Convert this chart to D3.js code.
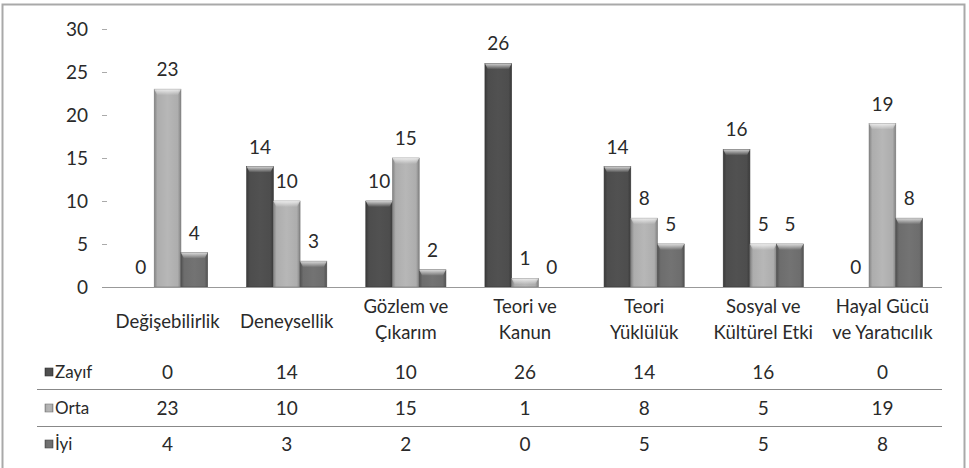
<!DOCTYPE html>
<html>
<head>
<meta charset="utf-8">
<script src="https://cdn.jsdelivr.net/npm/d3@7"></script>
<style>
  body { margin: 0; background: #fff; }
  text { font-family: Lato, "Open Sans", sans-serif; fill: #2a2a2a; }
</style>
</head>
<body>
<svg id="chart"></svg>
<script>
var width = 969,
    height = 468;

// data
var categories = ["Değişebilirlik", "Deneysellik", "Gözlem ve\nÇıkarım", "Teori ve\nKanun",
                  "Teori\nYüklülük", "Sosyal ve\nKültürel Etki", "Hayal Gücü\nve Yaratıcılık"];
var series = ["Zayıf", "Orta", "İyi"];
var zayif = [0, 14, 10, 26, 14, 16, 0];
var orta  = [23, 10, 15, 1, 8, 5, 19];
var iyi   = [4, 3, 2, 0, 5, 5, 8];
var yTicks = [0, 5, 10, 15, 20, 25, 30];

var values = [zayif, orta, iyi];
var colors = ["#4d4d4d", "#adadad", "#6d6d6d"];

var svg = d3.select("#chart")
    .attr("width", width)
    .attr("height", height);

svg.append("rect")
    .attr("width", width).attr("height", height)
    .attr("fill", "#fff");

// outer frame
svg.append("rect")
    .attr("x", 2.5).attr("y", 4.5)
    .attr("width", 962).attr("height", 480)
    .attr("fill", "none")
    .attr("stroke", "#a9a9a9")
    .attr("stroke-width", 2);

var defs = svg.append("defs");
colors.forEach(function(c, i) {
  var g = defs.append("linearGradient").attr("id", "grad" + i)
      .attr("x1", "0").attr("x2", "1").attr("y1", "0").attr("y2", "0");
  var dark = d3.color(c).darker(0.8), light = d3.color(c).brighter(0.15);
  g.append("stop").attr("offset", "0%").attr("stop-color", dark);
  g.append("stop").attr("offset", "12%").attr("stop-color", c);
  g.append("stop").attr("offset", "50%").attr("stop-color", light);
  g.append("stop").attr("offset", "88%").attr("stop-color", c);
  g.append("stop").attr("offset", "100%").attr("stop-color", dark);
});
var hi = defs.append("linearGradient").attr("id", "shine")
    .attr("x1", "0").attr("x2", "0").attr("y1", "0").attr("y2", "1");
hi.append("stop").attr("offset", "0%").attr("stop-color", "#fff").attr("stop-opacity", 0.75);
hi.append("stop").attr("offset", "100%").attr("stop-color", "#fff").attr("stop-opacity", 0);

var x = d3.scaleBand().domain(categories).range([108, 942]);
var x1 = d3.scaleBand().domain(series).range([19.5, x.bandwidth() - 19.5]);
var y = d3.scaleLinear().domain([0, 30]).range([287, 29]);

// y axis
var yAxis = svg.append("g")
    .attr("transform", "translate(107,0)")
    .call(d3.axisLeft(y).tickValues(yTicks).tickSize(5).tickPadding(14));
yAxis.select(".domain").remove();
yAxis.selectAll(".tick line").attr("stroke", "#aaa");
yAxis.selectAll(".tick text")
    .style("font-family", "Lato, sans-serif")
    .style("font-size", "19px")
    .attr("fill", "#2a2a2a");

// bars
series.forEach(function(s, si) {
  var g = svg.append("g");
  var data = values[si].map(function(v, i) { return {cat: categories[i], v: v}; });
  g.selectAll("rect.bar")
    .data(data.filter(function(d) { return d.v > 0; }))
    .enter().append("rect")
      .attr("class", "bar")
      .attr("x", function(d) { return x(d.cat) + x1(s); })
      .attr("y", function(d) { return y(d.v); })
      .attr("width", x1.bandwidth())
      .attr("height", function(d) { return y(0) - y(d.v); })
      .attr("fill", "url(#grad" + si + ")")
      .attr("stroke", d3.color(colors[si]).darker(1))
      .attr("stroke-width", 0.6);
  // top bevel
  g.selectAll("path.bevel")
    .data(data.filter(function(d) { return d.v > 0; }))
    .enter().append("path")
      .attr("class", "bevel")
      .attr("d", function(d) {
        var x0 = x(d.cat) + x1(s), w = x1.bandwidth(), t = y(d.v);
        var h = Math.min(6, y(0) - t);
        return "M" + x0 + "," + t + "h" + w + "l-3," + h + "h" + (-(w - 6)) + "z";
      })
      .attr("fill", "url(#shine)");
  // value labels
  g.selectAll("text")
    .data(data)
    .enter().append("text")
      .attr("x", function(d) { return x(d.cat) + x1(s) + x1.bandwidth() / 2; })
      .attr("y", function(d) { return y(d.v) - 13; })
      .attr("text-anchor", "middle")
      .style("font-size", "19px")
      .text(function(d) { return d.v; });
});

// baseline
svg.append("line")
    .attr("x1", 102).attr("x2", 942)
    .attr("y1", y(0) + 0.5).attr("y2", y(0) + 0.5)
    .attr("stroke", "#999");

// category labels
var catLabels = svg.append("g").selectAll("text")
    .data(categories)
    .enter().append("text")
      .attr("text-anchor", "middle")
      .style("font-size", "18.5px")
      .attr("transform", function(d) { return "translate(" + (x(d) + x.bandwidth() / 2) + ",0)"; });
catLabels.each(function(d) {
  var lines = d.split("\n");
  var t = d3.select(this);
  lines.forEach(function(l, i) {
    t.append("tspan")
      .attr("x", 0)
      .attr("y", lines.length == 1 ? 328 : 313 + i * 26)
      .text(l);
  });
});

// data table
var rowY = [372, 408, 444];
[389.5, 426.5].forEach(function(ly) {
  svg.append("line")
    .attr("x1", 37).attr("x2", 942)
    .attr("y1", ly).attr("y2", ly)
    .attr("stroke", "#888");
});

series.forEach(function(s, si) {
  var row = svg.append("g");
  row.append("rect")
    .attr("x", 45).attr("y", rowY[si] - 4)
    .attr("width", 8).attr("height", 8)
    .attr("fill", "url(#grad" + si + ")")
    .attr("stroke", d3.color(colors[si]).darker(1))
    .attr("stroke-width", 0.6);
  row.append("text")
    .attr("x", 55).attr("y", rowY[si] + 6)
    .style("font-size", "17px")
    .text(s);
  row.selectAll("text.val")
    .data(values[si])
    .enter().append("text")
      .attr("class", "val")
      .attr("x", function(d, i) { return x(categories[i]) + x.bandwidth() / 2; })
      .attr("y", rowY[si] + 7)
      .attr("text-anchor", "middle")
      .style("font-size", "19px")
      .text(function(d) { return d; });
});
</script>
</body>
</html>
